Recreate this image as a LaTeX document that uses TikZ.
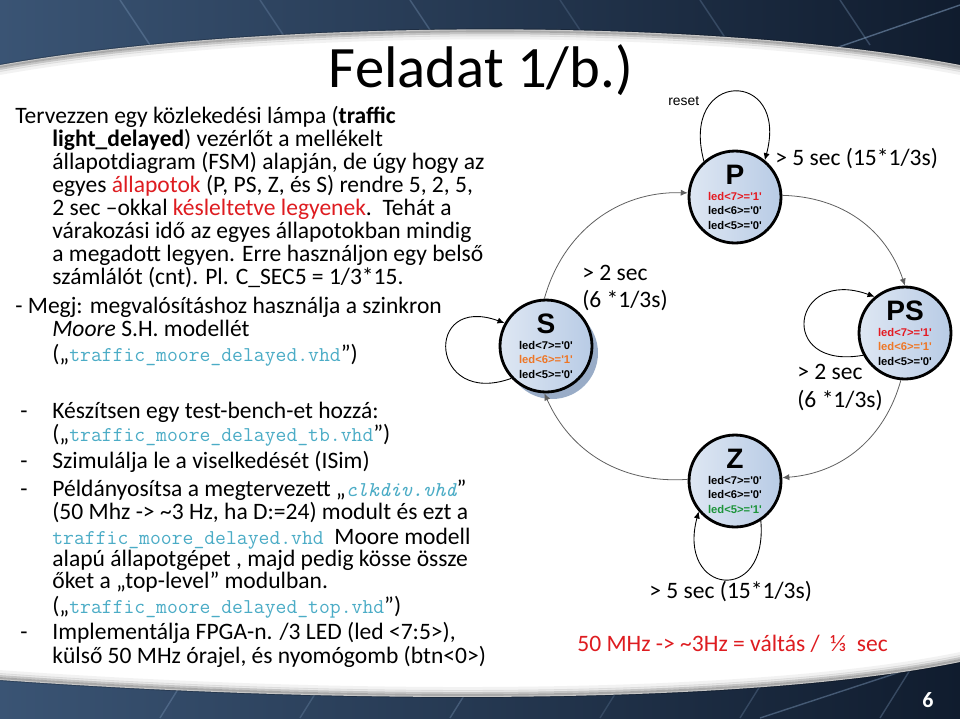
\documentclass[tikz,border=0pt]{standalone}
\usepackage{fontspec}
\setmainfont{Carlito}
\newfontfamily\arialfont[Ligatures=TeXOff]{Liberation Sans}
\usetikzlibrary{arrows.meta,calc}

\definecolor{bannerdark}{RGB}{16,28,46}
\definecolor{bannerlight}{RGB}{58,84,116}
\definecolor{streak}{RGB}{140,170,205}
\definecolor{hlred}{RGB}{222,28,32}
\definecolor{ledred}{RGB}{228,26,34}
\definecolor{ledorange}{RGB}{238,118,38}
\definecolor{ledgreen}{RGB}{28,148,58}
\definecolor{vhdblue}{RGB}{75,172,198}
\definecolor{statelight}{RGB}{222,231,243}
\definecolor{statedark}{RGB}{184,203,229}
\definecolor{stateshadow}{RGB}{110,138,176}
\definecolor{transgray}{RGB}{95,95,95}

\newcommand{\vhd}[1]{{\ttfamily\fontsize{12}{14}\selectfont\color{vhdblue}#1}}
\newcommand{\stname}[1]{{\fontsize{16}{16}\selectfont #1}}

\begin{document}
\begin{tikzpicture}[x=0.02cm,y=-0.02cm,
  txt/.style={anchor=base west,inner sep=0pt,font=\fontsize{13.4}{16}\selectfont},
  state/.style={circle,draw=black,line width=1.6pt,minimum size=1.84cm,inner sep=0pt,
    left color=statelight,right color=statedark,align=center,
    font=\arialfont\bfseries\fontsize{6.4}{8.2}\selectfont},
  trans/.style={draw=transgray,line width=0.45pt,-{Latex[length=4pt,width=3.5pt]}},
  selfloop/.style={draw=black,line width=0.5pt,-{Latex[length=4pt,width=3.5pt]}}]
\useasboundingbox (0,0) rectangle (960,718);

% background banner
\shade[left color=bannerlight,right color=bannerdark] (0,0) rectangle (960,718);
\begin{scope}[draw=streak,line width=0.8pt]
\foreach \x/\o in {120/0.3,260/0.25,410/0.3,560/0.2,700/0.25,840/0.3} {
  \draw[opacity=\o] (\x,0) -- (\x+30,45);
  \draw[opacity=\o] (\x+40,718) -- (\x+70,670);
}
\draw[opacity=0.5] (830,50) -- (960,5);
\draw[opacity=0.4] (760,718) -- (900,672);
\end{scope}
\fill[white] (0,65) .. controls (250,20) and (700,15) .. (960,65)
  -- (960,662) .. controls (750,705) and (350,705) .. (0,680) -- cycle;
\foreach \d/\o in {1/0.22,3/0.15,5/0.09,8/0.05} {
  \draw[black,opacity=\o,line width=2.2pt] (0,65+\d) .. controls (250,20+\d) and (700,15+\d) .. (960,65+\d);
  \draw[black,opacity=\o,line width=2.2pt] (0,680-\d) .. controls (350,705-\d) and (750,705-\d) .. (960,662-\d);
}

% title and page number
\node[anchor=base,inner sep=0pt,font=\fontsize{33.4}{36}\selectfont] (title) at (481,87) {Feladat 1/b.)};
\node[inner sep=0pt,text=white,font=\bfseries\fontsize{12.5}{14}\selectfont] (pageno) at (928,700) {6};

% task text
\node[txt] (t1) at (15,123) {Tervezzen egy közlekedési lámpa (\textbf{traffic}};
\node[txt] (t2) at (52,146) {\textbf{light\_delayed}) vezérlőt a mellékelt};
\node[txt] (t3) at (52,169) {állapotdiagram (FSM) alapján, de úgy hogy az};
\node[txt] (t4) at (52,192) {egyes \textcolor{hlred}{állapotok} (P, PS, Z, és S) rendre 5, 2, 5,};
\node[txt] (t5) at (52,215) {2 sec –okkal \textcolor{hlred}{késleltetve legyenek}.\ \ Tehát a};
\node[txt] (t6) at (52,238) {várakozási idő az egyes állapotokban mindig};
\node[txt] (t7) at (52,261) {a megadott legyen. Erre használjon egy belső};
\node[txt] (t8) at (52,284) {számlálót (cnt). Pl. C\_SEC5 = 1/3*15.};
\node[txt] (m1) at (15,313) {- Megj: megvalósításhoz használja a szinkron};
\node[txt] (m2) at (52,336) {\textit{Moore} S.H. modellét};
\node[txt] (m3) at (52,361) {(„\vhd{traffic\_moore\_delayed.vhd}”)};

\foreach \y in {418,468,496,639}
  \node[txt] at (20,\y) {-};
\node[txt] (l1) at (52,418) {Készítsen egy test-bench-et hozzá:};
\node[txt] (l2) at (52,441) {(„\vhd{traffic\_moore\_delayed\_tb.vhd}”)};
\node[txt] (l3) at (52,468) {Szimulálja le a viselkedését (ISim)};
\node[txt] (l4) at (52,496) {Példányosítsa a megtervezett „\vhd{\itshape clkdiv.vhd}”};
\node[txt] (l5) at (52,519) {(50 Mhz -> \textasciitilde3 Hz, ha D:=24) modult és ezt a};
\node[txt] (l6) at (52,544) {\vhd{traffic\_moore\_delayed.vhd}\ \ Moore modell};
\node[txt] (l7) at (52,566) {alapú állapotgépet , majd pedig kösse össze};
\node[txt] (l8) at (52,588) {őket a „top-level” modulban.};
\node[txt] (l9) at (52,613) {(„\vhd{traffic\_moore\_delayed\_top.vhd}”)};
\node[txt] (l10) at (52,639) {Implementálja FPGA-n. /3 LED (led <7:5>),};
\node[txt] (l11) at (52,663) {külső 50 MHz órajel, és nyomógomb (btn<0>)};

% state diagram
\fill[stateshadow,opacity=0.7] (552,353) circle (46);
\node[state] (P) at (735,197) {\stname{P}\\[1pt]\textcolor{ledred}{led<7>='1'}\\led<6>='0'\\led<5>='0'};
\node[state] (PS) at (905,333) {\stname{PS}\\[1pt]\textcolor{ledred}{led<7>='1'}\\\textcolor{ledorange}{led<6>='1'}\\led<5>='0'};
\node[state] (Z) at (735,481) {\stname{Z}\\[1pt]led<7>='0'\\led<6>='0'\\\textcolor{ledgreen}{led<5>='1'}};
\node[state] (S) at (546,346) {\stname{S}\\[1pt]led<7>='0'\\\textcolor{ledorange}{led<6>='1'}\\led<5>='0'};

\draw[trans] (S.92) to[bend left=38] (P.175);
\draw[trans] (P.2) to[bend left=35] (PS.90);
\draw[trans] (PS.265) to[bend left=35] (Z.4);
\draw[trans] (Z.178) to[bend left=35] (S.268);

\draw[selfloop] (P.131) to[out=105,in=75,looseness=4] (P.51);
\draw[selfloop] (PS.208) to[out=190,in=160,looseness=3.8] (PS.130);
\draw[selfloop] (S.223) to[out=200,in=160,looseness=4] (S.151);
\draw[selfloop] (Z.303) to[out=275,in=255,looseness=3.5] (Z.220);

\node[anchor=base west,inner sep=0pt,font=\arialfont\fontsize{7.9}{9}\selectfont] (reset) at (668,105) {reset};
\node[txt] (lblPPS) at (775,165) {> 5 sec (15*1/3s)};
\node[txt] (lblSPa) at (582,280) {> 2 sec};
\node[txt] (lblSPb) at (582,307) {(6 *1/3s)};
\node[txt] (lblPSZa) at (797,379) {> 2 sec};
\node[txt] (lblPSZb) at (797,407) {(6 *1/3s)};
\node[txt] (lblZ) at (649,598) {> 5 sec (15*1/3s)};
\node[txt,text=hlred] (clocknote) at (577,651) {50 MHz -> \textasciitilde3Hz = váltás /\ \ ⅓\ \ sec};
\end{tikzpicture}
\end{document}
